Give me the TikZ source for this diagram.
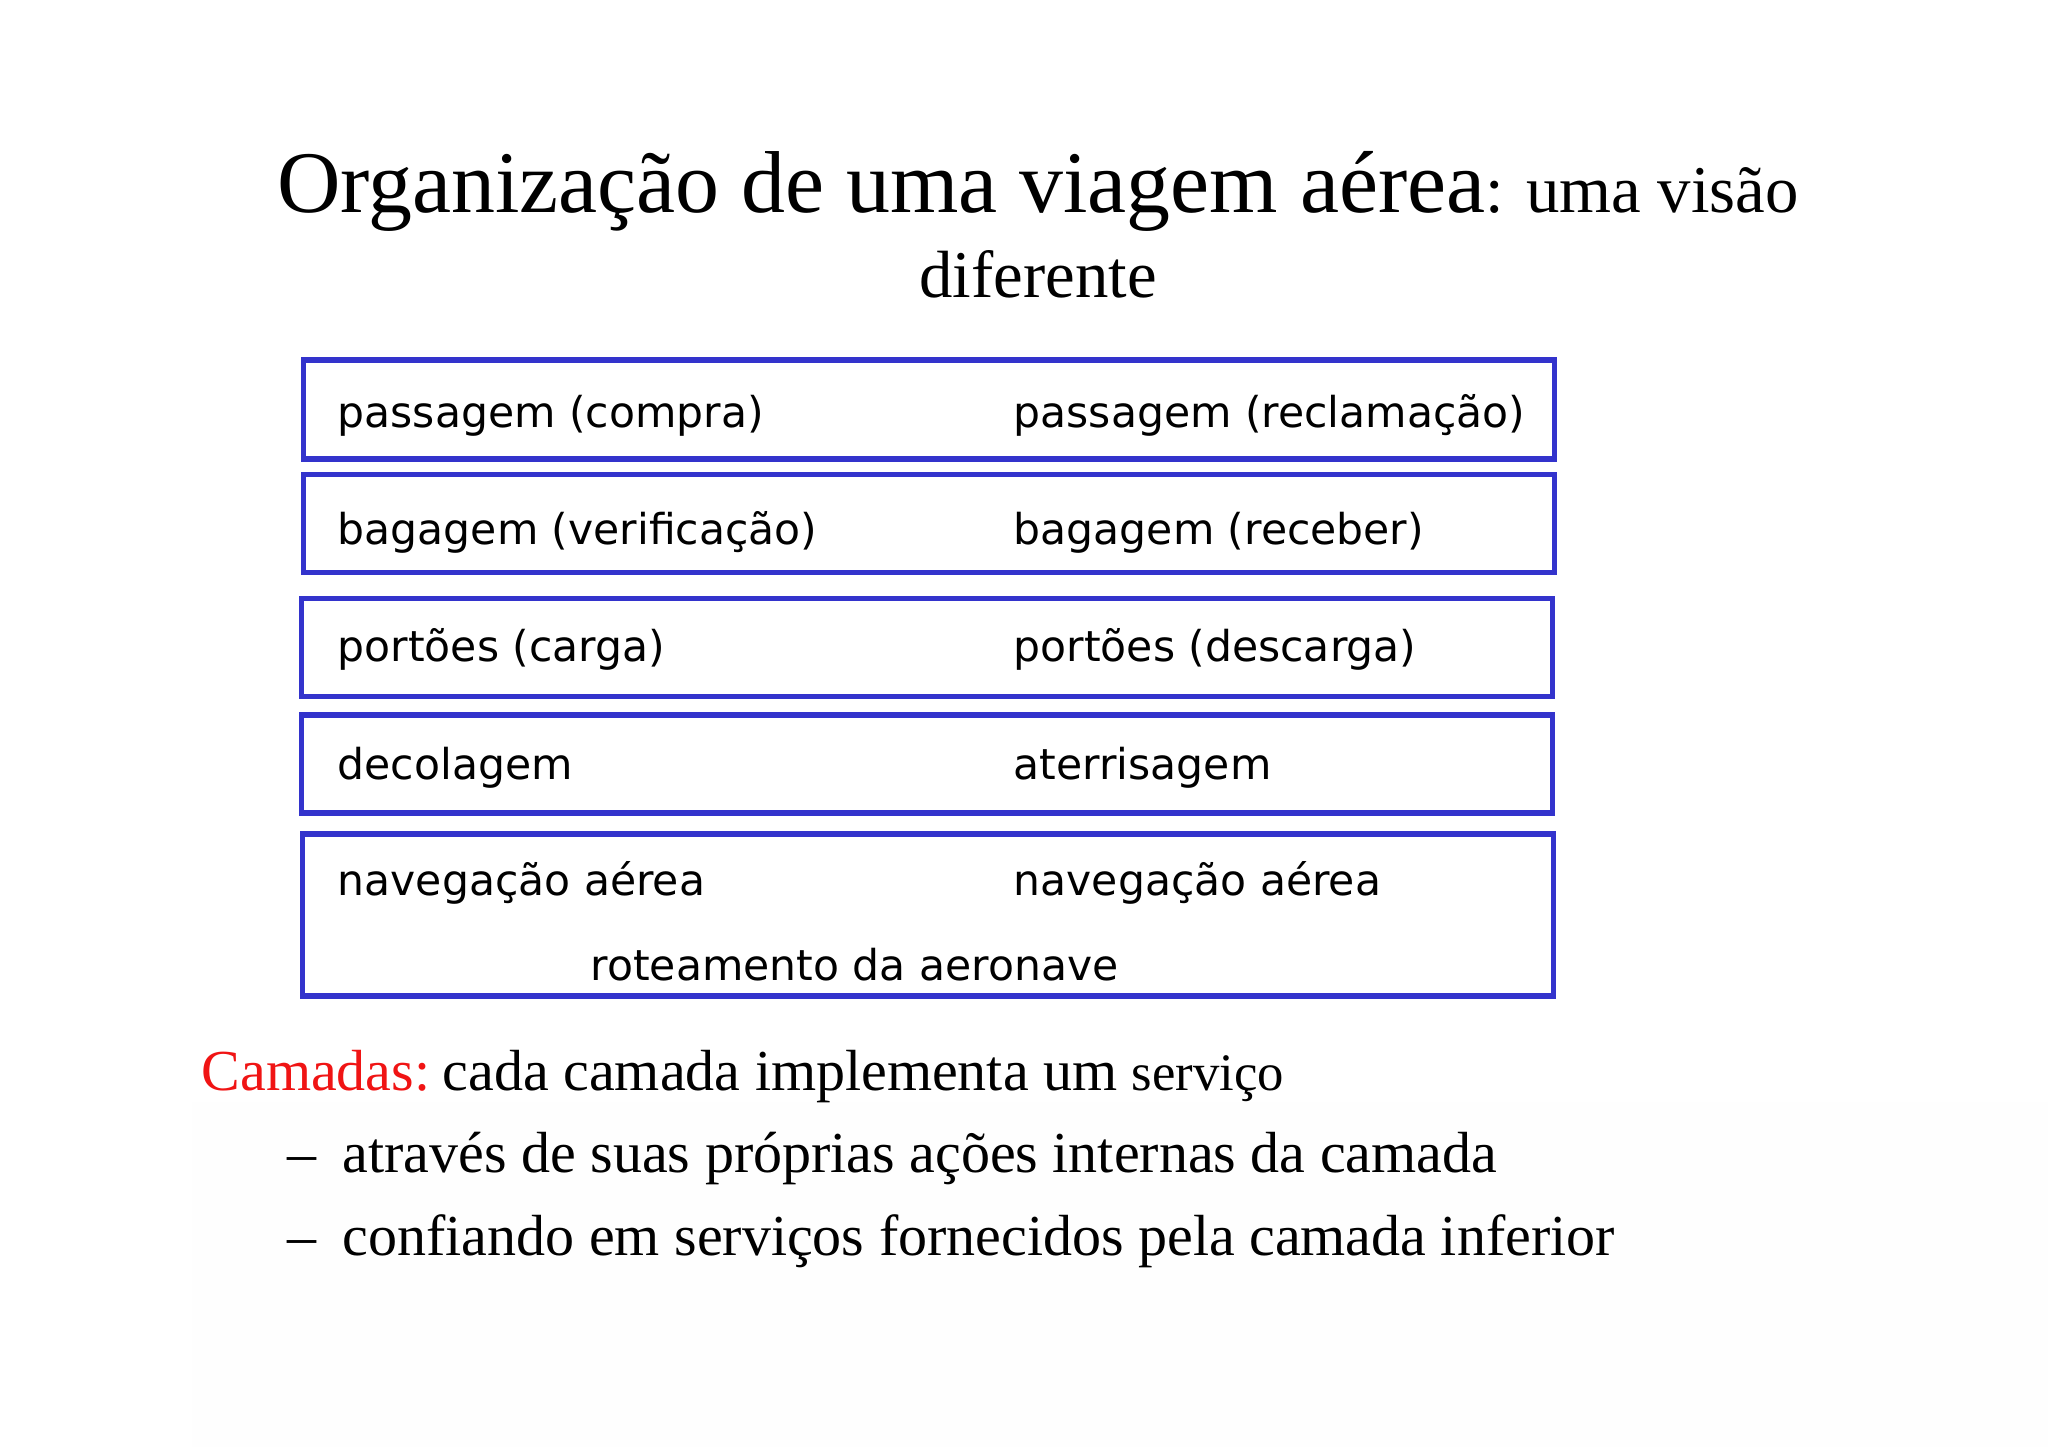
\documentclass[tikz,border=0pt]{standalone}
\usepackage{fontspec}
\setmainfont{Liberation Serif}
\newfontfamily\boxfont{DejaVu Sans}
\usepackage{tikz}

\definecolor{layerblue}{RGB}{51,51,204}
\definecolor{camred}{RGB}{240,20,20}

\tikzset{
	layerbox/.style={draw=layerblue, line width=1.5pt, minimum width=12.51cm, inner sep=0pt},
	boxtext/.style={anchor=base west, inner sep=0pt, font=\boxfont\fontsize{12.1}{14}\selectfont},
	bodytext/.style={anchor=base west, inner sep=0pt, font=\fontsize{16.5}{20}\selectfont}
}

\begin{document}
\begin{tikzpicture}
\useasboundingbox (0,0) rectangle (20.48,-14.47);
\fill[white] (0,0) rectangle (20.48,-14.47);
\fill[black!0.5] (1.92,-11.02) rectangle (20.48,-14.47);

% title
\node[anchor=base, inner sep=0pt] (title) at (10.38,-2.13)
	{\fontsize{25}{30}\selectfont Organização de uma viagem aérea\fontsize{19}{23}\selectfont: uma visão};
\node[anchor=base, inner sep=0pt] (title2) at (10.38,-2.98) {\fontsize{19}{23}\selectfont diferente};

% the layers
\foreach \i/\x/\y/\h in {1/9.29/-4.094/0.99, 2/9.29/-5.237/0.98, 3/9.27/-6.478/0.98, 4/9.27/-7.64/0.98, 5/9.28/-9.15/1.62}{
	\node[layerbox, minimum height=\h cm] (box\i) at (\x,\y) {};
}
\foreach \i/\y/\lt/\rt in {1/-4.28/passagem (compra)/passagem (reclamação),
	2/-5.45/bagagem (verificação)/bagagem (receber),
	3/-6.62/portões (carga)/portões (descarga),
	4/-7.80/decolagem/aterrisagem,
	5/-8.96/navegação aérea/navegação aérea}{
	\node[boxtext] (left\i) at (3.37,\y) {\lt};
	\node[boxtext] (right\i) at (10.13,\y) {\rt};
}
\node[boxtext] (route) at (5.90,-9.81) {roteamento da aeronave};

% text below
\node[bodytext] (camadas) at (2.01,-10.91)
	{\textcolor{camred}{Camadas:}\hspace{-2pt} cada camada implementa um {\fontsize{15}{18}\selectfont serviço}};
\node[bodytext] (dash1) at (2.87,-11.73) {–};
\node[bodytext] (item1) at (3.42,-11.73) {através de suas próprias ações internas da camada};
\node[bodytext] (dash2) at (2.87,-12.56) {–};
\node[bodytext] (item2) at (3.42,-12.56) {confiando em serviços fornecidos pela camada inferior};
\end{tikzpicture}
\end{document}
